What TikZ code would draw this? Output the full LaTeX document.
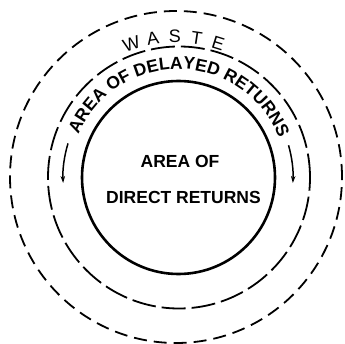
\documentclass[tikz,border=0pt]{standalone}
\usepackage{fontspec}
\setmainfont{Liberation Sans}
\usetikzlibrary{decorations.text,arrows.meta}
\begin{document}
\begin{tikzpicture}[x=1pt,y=1pt,
  solidring/.style={line width=2.6pt},
  outerdash/.style={line width=1.8pt, dash pattern=on 13pt off 7pt},
  middash/.style={line width=1.8pt, dash pattern=on 24pt off 6pt},
  lbl/.style={font=\fontsize{17.5}{22}\selectfont\bfseries, inner sep=0pt},
  wastelbl/.style={font=\fontsize{18}{22}\selectfont, inner sep=0pt},
  flowarrow/.style={line width=1.5pt, -{Stealth[length=7pt,width=4.5pt]}}]
\useasboundingbox (0,0) rectangle (345,343);
\coordinate (C) at (178,166);
\draw[outerdash] (176,166) circle[radius=166];
\draw[middash] (179,165.5) circle[radius=131];
\draw[solidring] (178.5,165.5) circle[radius=96.5];
\node[lbl] (areaof) at (180,181.5) {AREA OF};
\node[lbl] (direct) at (183.5,145.5) {DIRECT RETURNS};
\foreach \l/\a [count=\i] in {W/108.5,A/99.5,S/90.5,T/81.5,E/72.5}
  \node[wastelbl, rotate=\a-90] (w\i) at ([shift={(176,166)}]\a:140.5) {\l};
\path[decorate, decoration={text along path,
  text={|\fontsize{17.5}{22}\selectfont\bfseries|AREA OF DELAYED RETURNS},
  text align=center}]
  ([shift={(178,166)}]164:108) arc[start angle=164, end angle=14, radius=108];
\draw[flowarrow] ([shift={(178,166)}]163:115) arc[start angle=163, end angle=183, radius=115];
\draw[flowarrow] ([shift={(178,166)}]16:115) arc[start angle=16, end angle=-3, radius=115];
\end{tikzpicture}
\end{document}
